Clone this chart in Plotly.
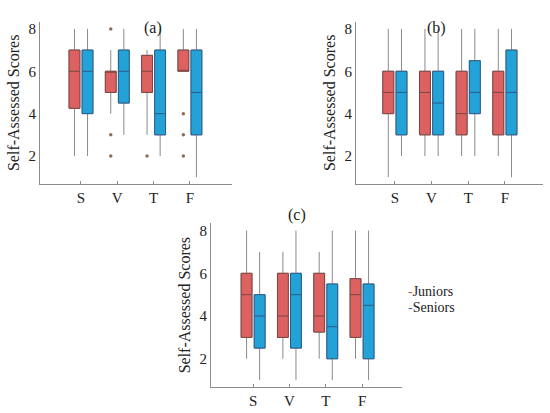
import plotly.graph_objects as go

categories = ["S", "V", "T", "F"]

# (a)
a_jun_low = [2, 4, 3, 6]
a_jun_q1 = [4.25, 5, 5, 6]
a_jun_med = [6, 6, 6, 6]
a_jun_q3 = [7, 6, 6.75, 7]
a_jun_high = [8, 7, 7, 8]
a_jun_out = [[], [8, 3, 2], [2], [4, 3, 2]]

a_sen_low = [2, 3, 2, 1]
a_sen_q1 = [4, 4.5, 3, 3]
a_sen_med = [6, 6, 4, 5]
a_sen_q3 = [7, 7, 7, 7]
a_sen_high = [8, 8, 8, 8]

# (b)
b_jun_low = [1, 2, 2, 2]
b_jun_q1 = [4, 3, 3, 3]
b_jun_med = [5, 5, 4, 5]
b_jun_q3 = [6, 6, 6, 6]
b_jun_high = [8, 8, 8, 8]

b_sen_low = [2, 2, 2, 1]
b_sen_q1 = [3, 3, 4, 3]
b_sen_med = [5, 4.5, 5, 5]
b_sen_q3 = [6, 6, 6.5, 7]
b_sen_high = [8, 8, 8, 8]

# (c)
c_jun_low = [2, 2, 2, 2]
c_jun_q1 = [3, 3, 3.25, 3]
c_jun_med = [5, 4, 4, 5]
c_jun_q3 = [6, 6, 6, 5.75]
c_jun_high = [8, 7, 7, 8]

c_sen_low = [1, 1, 1, 1]
c_sen_q1 = [2.5, 2.5, 2, 2]
c_sen_med = [4, 5, 3.5, 4.5]
c_sen_q3 = [5, 6, 5.5, 5.5]
c_sen_high = [7, 8, 8, 8]

no_out = [[], [], [], []]

jun_fill, jun_edge = "#dc6160", "#7c4640"
sen_fill, sen_edge = "#22a2d6", "#2c5a8c"
whisker_col = "#8a8a8a"
out_col = "#8c6e58"
font = "Liberation Serif, Times New Roman, serif"

panels = [
    ("x", "y", (a_jun_low, a_jun_q1, a_jun_med, a_jun_q3, a_jun_high), a_jun_out,
     (a_sen_low, a_sen_q1, a_sen_med, a_sen_q3, a_sen_high), no_out),
    ("x2", "y2", (b_jun_low, b_jun_q1, b_jun_med, b_jun_q3, b_jun_high), no_out,
     (b_sen_low, b_sen_q1, b_sen_med, b_sen_q3, b_sen_high), no_out),
    ("x3", "y3", (c_jun_low, c_jun_q1, c_jun_med, c_jun_q3, c_jun_high), no_out,
     (c_sen_low, c_sen_q1, c_sen_med, c_sen_q3, c_sen_high), no_out),
]

fig = go.Figure()


def add_group(xa, ya, name, stats, outliers, fill, edge):
    low, q1, med, q3, high = stats
    # gray whiskers
    fig.add_trace(go.Box(
        x=categories, q1=q1, median=med, q3=q3,
        lowerfence=low, upperfence=high,
        name=name, offsetgroup=name, xaxis=xa, yaxis=ya,
        line=dict(color=whisker_col, width=1), fillcolor="rgba(0,0,0,0)",
        whiskerwidth=0, boxpoints=False, showlegend=False,
    ))
    # coloured box on top
    fig.add_trace(go.Box(
        x=categories, q1=q1, median=med, q3=q3,
        lowerfence=q1, upperfence=q3,
        name=name, offsetgroup=name, xaxis=xa, yaxis=ya,
        line=dict(color=edge, width=1), fillcolor=fill,
        whiskerwidth=0, boxpoints=False, showlegend=False,
    ))
    # outlier dots (box itself hidden)
    ox = [c for c, vals in zip(categories, outliers) for _ in vals]
    oy = [v for vals in outliers for v in vals]
    if oy:
        fig.add_trace(go.Box(
            x=ox, y=oy, name=name, offsetgroup=name, xaxis=xa, yaxis=ya,
            line=dict(color="rgba(0,0,0,0)", width=0), fillcolor="rgba(0,0,0,0)",
            whiskerwidth=0, boxpoints="all", pointpos=0, jitter=0,
            marker=dict(color=out_col, size=3.5), showlegend=False,
        ))


for xa, ya, jun, jun_out, sen, sen_out in panels:
    add_group(xa, ya, "Juniors", jun, jun_out, jun_fill, jun_edge)
    add_group(xa, ya, "Seniors", sen, sen_out, sen_fill, sen_edge)

xstyle = dict(type="category", categoryorder="array", categoryarray=categories,
              showline=True, linecolor="#8c8c8c", linewidth=1, ticks="inside",
              ticklen=3, tickcolor="#8c8c8c", showgrid=False, zeroline=False,
              automargin=False,
              tickfont=dict(size=15, family=font, color="#222"))
ystyle = dict(range=[0.68, 8.34], tickvals=[2, 4, 6, 8], showline=True,
              linecolor="#8c8c8c", linewidth=1, ticks="", showgrid=False,
              zeroline=False, automargin=False,
              tickfont=dict(size=15, family=font, color="#222"),
              title=dict(text="Self-Assessed Scores", standoff=4,
                         font=dict(size=16, family=font, color="#222")))

fig.update_layout(
    template="none",
    width=550, height=413,
    margin=dict(l=0, r=0, t=0, b=0),
    font=dict(family=font, color="#222"),
    paper_bgcolor="white", plot_bgcolor="white",
    boxmode="group", boxgap=0.28, boxgroupgap=0.17,
    showlegend=False,
    xaxis=dict(xstyle, domain=[0.0727, 0.4218], range=[-1.13, 4.16], anchor="y"),
    yaxis=dict(ystyle, domain=[0.5545, 0.9475], anchor="x"),
    xaxis2=dict(xstyle, domain=[0.6473, 0.9873], range=[-1.06, 4.04], anchor="y2"),
    yaxis2=dict(ystyle, domain=[0.5545, 0.9475], anchor="x2"),
    xaxis3=dict(xstyle, domain=[0.3836, 0.7309], range=[-1.16, 4.1], anchor="y3"),
    yaxis3=dict(ystyle, domain=[0.063, 0.4593], anchor="x3"),
)

tfont = dict(size=16, family=font, color="#222")
for label, px, py in [("(a)", 142, 17), ("(b)", 448, 17), ("(c)", 297, 215)]:
    fig.add_annotation(text=label, x=px / 550, y=1 - py / 413, xref="paper",
                       yref="paper", showarrow=False, font=tfont)

lfont = dict(size=14, family=font, color="#222")
for label, dash, py in [("Juniors", "#9a6a50", 301), ("Seniors", "#3a62b8", 317)]:
    fig.add_annotation(text=f"<span style='color:{dash}'>-</span>{label}",
                       x=406 / 550, y=1 - py / 413, xref="paper", yref="paper",
                       xanchor="left", showarrow=False, font=lfont)

# page body has a default 8px margin; drop it so the figure sits at the corner
fig.write_html("out.html", config={"displayModeBar": False},
               post_script="document.body.style.margin='0';")
